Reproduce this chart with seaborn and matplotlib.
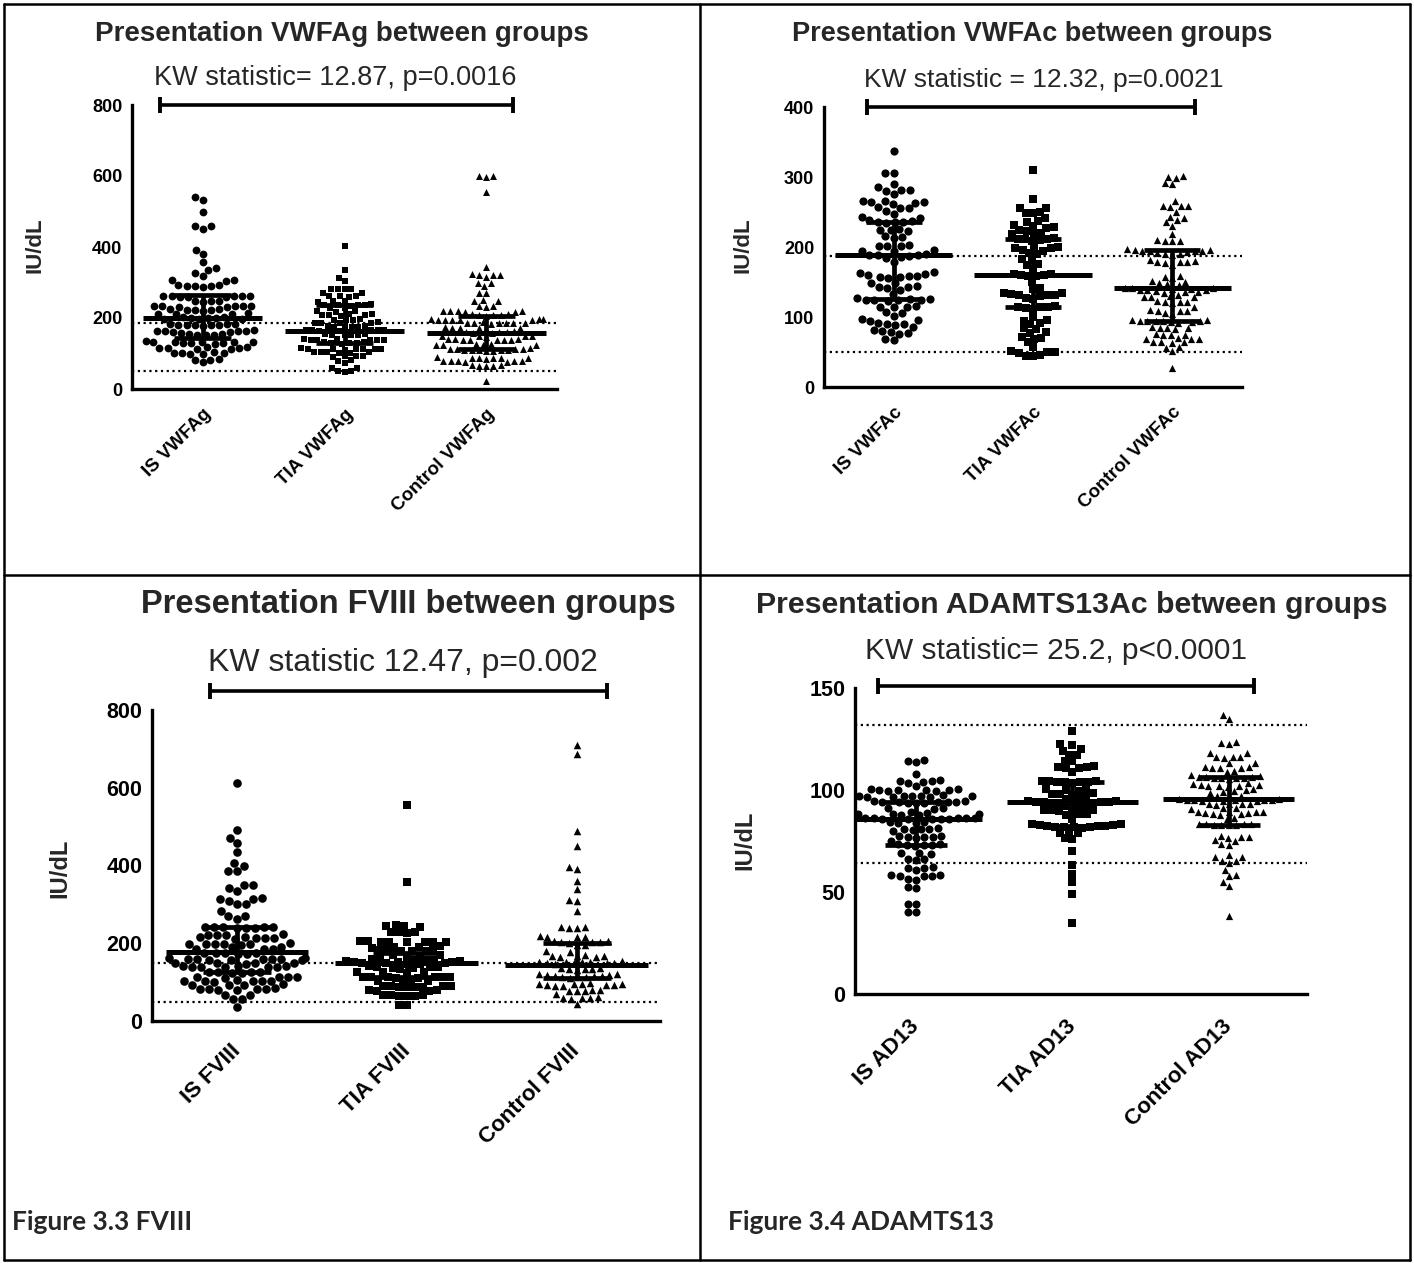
import numpy as np
import pandas as pd
import matplotlib
matplotlib.use("Agg")
import matplotlib.pyplot as plt
import seaborn as sns
from matplotlib.lines import Line2D

sns.set_style("white")
plt.rcParams["font.family"] = ["Liberation Sans", "DejaVu Sans"]

# ---------------- DATA ----------------
# Panel 1: VWFAg (IU/dL)
vwfag_labels = ["IS VWFAg", "TIA VWFAg", "Control VWFAg"]
is_vwfag = [540, 532, 498, 458, 452, 458, 392, 380, 357, 341, 335, 327, 319, 306, 307, 305,
            291, 293, 289, 290, 292, 288,
            262, 261, 260, 263, 259, 262, 261, 260,
            248, 247, 246, 247,
            234, 233, 232, 233, 235, 231, 233,
            224, 222, 223, 225, 221, 223,
            212, 213, 211, 210,
            201, 199, 198, 202, 200, 197, 203, 196,
            182, 181, 180, 183, 179, 181, 184, 178, 181,
            163, 162, 161, 164, 160, 162, 165, 159,
            153, 152, 154, 151, 155,
            132, 131, 130, 133, 129, 131, 134, 128, 131, 130,
            116, 115, 114, 117, 113, 115, 118,
            102, 101, 100, 103, 99, 101,
            84, 83, 82, 75]
tia_vwfag = [402, 336, 313, 303, 282, 283, 281, 282, 270, 271, 261, 262, 260, 261, 247, 248, 246,
             237, 238, 236, 237, 239, 235, 228, 229, 219, 220, 218,
             209, 210, 208, 209, 211, 207, 195, 196, 194, 195,
             186, 187, 185, 186, 188, 176, 177, 175, 176, 178, 174,
             165, 166, 164, 165, 167, 163, 165, 153, 154, 152, 153, 155, 151,
             139, 140, 138, 139, 141, 137, 139, 130, 131, 129, 130, 132, 128,
             113, 114, 112, 113, 115, 111, 114, 112, 103, 104, 102, 103, 105, 101,
             92, 93, 91, 92, 80, 81, 73, 59, 60, 50, 51, 49]
ctrl_vwfag = [599, 600, 598, 555, 343, 322, 323, 321, 322, 315, 299, 300, 289, 270, 271, 249, 250, 248,
              233, 234, 232, 219, 220, 218, 219, 221, 217, 209, 210, 208, 209, 211, 207,
              195, 196, 194, 195, 197, 193, 196, 194, 186, 187, 185, 186, 188, 184, 187, 185,
              172, 173, 171, 172, 174, 170, 160, 161, 159, 160, 162, 158, 148, 149, 147, 148, 150,
              139, 140, 138, 139, 141, 137, 140, 138, 125, 126, 124, 125, 127, 123,
              113, 114, 112, 113, 115, 111, 109, 110, 108, 109, 107, 110,
              87, 88, 86, 87, 89, 85, 88, 78, 79, 77, 78, 80, 76, 79, 66, 67, 65, 66, 68, 22]
vwfag_median = [200, 163, 158]
vwfag_q1 = [144, 130, 113]
vwfag_q3 = [265, 237, 206]
vwfag_refs = [50, 187]

# Panel 2: VWFAc
vwfac_labels = ["IS VWFAc", "TIA VWFAc", "Control VWFAc"]
is_vwfac = [337, 305, 306, 290, 286, 281, 282, 280, 276, 264, 265, 263, 264, 265, 262, 256, 257, 255, 251, 247, 242, 243,
            236, 237, 235, 236, 238, 234, 224, 225, 223, 224, 214, 215, 213, 202, 203, 201, 202, 195, 196, 194,
            188, 189, 187, 188, 190, 186, 185, 179, 163, 164, 162, 160, 157, 158, 156, 157, 159, 148, 149,
            143, 144, 142, 143, 138, 133, 125, 126, 124, 125, 127, 123, 126, 124,
            115, 116, 114, 115, 106, 107, 102, 96, 97, 95, 90, 91, 89, 90, 86, 80, 81, 79, 76, 77, 67, 68]
tia_vwfac = [310, 268, 255, 256, 249, 250, 248, 242, 236, 237, 230, 231, 227, 228, 223, 224, 219, 220, 218,
             211, 212, 210, 211, 213, 209, 199, 200, 198, 199, 195, 196, 190, 191, 182, 183, 175, 176, 169,
             160, 161, 159, 160, 162, 158, 150, 140, 141, 134, 135, 131, 132, 130, 131, 133, 126, 127,
             114, 115, 113, 114, 116, 112, 100, 95, 96, 90, 91, 83, 84, 77, 78, 70, 71, 69, 64, 57,
             50, 51, 49, 50, 45, 46, 44]
ctrl_vwfac = [302, 299, 300, 290, 291, 265, 258, 259, 257, 258, 250, 242, 243, 238, 235, 230, 219, 209, 210, 208, 209,
              195, 196, 194, 195, 197, 193, 196, 194, 190, 191, 189, 190, 179, 180, 178, 179, 181, 177, 175,
              157, 158, 156, 150, 151, 147, 148, 146, 140, 141, 139, 140, 142, 138, 141, 139, 136, 137, 135, 136,
              129, 130, 128, 129, 131, 121, 122, 120, 121, 123, 114, 109, 110, 108, 109, 105, 106,
              94, 95, 93, 94, 96, 92, 95, 93, 94, 96, 84, 85, 83, 84, 86, 75, 76, 74, 75, 69, 70, 68, 69,
              64, 65, 63, 64, 56, 57, 51, 27]
vwfac_median = [189, 160, 141]
vwfac_q1 = [126, 115, 94]
vwfac_q3 = [236, 211, 196]
vwfac_refs = [50, 187]

# Panel 3: FVIII
fviii_labels = ["IS FVIII", "TIA FVIII", "Control FVIII"]
is_fviii = [612, 491, 472, 457, 434, 407, 400, 386, 387, 349, 350, 342, 334, 315, 316, 314, 309, 300, 301, 282, 270, 271, 263,
            241, 242, 240, 241, 243, 239, 242, 240, 222, 223, 221, 222, 214, 215, 213, 214, 216, 212,
            198, 199, 197, 198, 200, 196, 199, 190, 191, 185, 186, 184, 174, 175, 173, 174, 176, 172,
            159, 160, 158, 159, 161, 157, 160, 158, 159, 161, 148, 149, 147, 148, 150,
            140, 141, 139, 140, 142, 138, 141, 139, 125, 126, 124, 125, 127, 123,
            112, 113, 111, 112, 114, 103, 104, 102, 103, 105, 101, 104, 93, 94, 92, 93,
            82, 83, 81, 82, 84, 80, 83, 66, 67, 56, 57, 36]
tia_fviii = [556, 358, 244, 245, 243, 246, 228, 229, 227, 230, 203, 204, 202, 205, 203, 204, 202, 205,
             190, 191, 189, 192, 181, 182, 180, 183, 181, 182, 168, 169, 167, 170,
             158, 159, 157, 160, 155, 156, 154, 152, 153, 151, 150, 149, 148, 147, 146,
             140, 141, 139, 138, 137, 136, 135, 125, 126, 124, 127, 112, 113, 111, 114, 112, 113, 111, 114,
             103, 104, 102, 105, 88, 89, 87, 90, 88, 89, 87, 90, 78, 79, 77, 80, 65, 66, 64, 67, 65, 66, 41, 42]
ctrl_fviii = [710, 688, 488, 451, 396, 391, 361, 340, 309, 310, 284, 240, 241, 239, 242, 216, 217, 215, 218,
              203, 204, 202, 205, 201, 206, 195, 196, 178, 179, 166, 167, 165, 168, 164, 169,
              150, 151, 149, 152, 148, 153, 147, 154, 150, 151, 134, 135, 133, 136, 132, 137,
              119, 120, 118, 121, 117, 113, 114, 112, 115, 111, 116,
              93, 94, 92, 95, 91, 96, 90, 97, 93, 94, 78, 79, 77, 80, 76, 70, 59, 60, 58, 61, 57, 44]
fviii_median = [178, 150, 143]
fviii_q1 = [125, 113, 110]
fviii_q3 = [241, 176, 200]
fviii_refs = [50, 150]

# Panel 4: ADAMTS13 activity
ad13_labels = ["IS AD13", "TIA AD13", "Control AD13"]
is_ad13 = [114, 114.5, 113.5, 108, 105, 104, 104.5, 103.5, 104.2, 102, 100, 100.3, 99.7, 100.1, 99.9, 100.4, 99.6, 100.2,
           97, 97.3, 96.7, 97.1, 96.9, 97.4, 96.6, 97.2, 96.8,
           94, 94.3, 93.7, 94.1, 93.9, 94.4, 93.6, 94.2, 93.8, 94.5,
           91, 91.3, 90.7, 89, 89.3, 88.7, 88, 88.3, 87.7, 88.1, 87.9,
           86, 86.3, 85.7, 86.1, 85.9, 86.4, 85.6, 86.2, 85.8, 86.5,
           84, 84.3, 83.7, 84.1, 81, 81.3, 80.7, 81.1, 80, 80.3,
           77, 77.3, 76.7, 77.1, 76.9, 77.4, 75,
           73, 73.3, 72.7, 73.1, 72.9, 73.4, 69, 69.3, 68.7, 66, 66.3, 65.7, 62, 62.3, 61.7, 61,
           58, 58.3, 57.7, 58.1, 57.9, 56, 56.3, 52, 52.3, 44, 44.3, 40, 40.3]
tia_ad13 = [129, 122, 122.4, 120, 119, 117, 117.3, 114, 114.3, 112, 111, 111.3, 110.7, 111.1, 109,
            104, 104.3, 103.7, 104.1, 103.9, 104.4, 103.6, 104.2, 100, 100.3, 99.7, 100.1,
            98, 98.3, 97.7, 98.1, 96, 96.3, 95.7, 94, 94.3, 93.7, 94.1, 93.9, 94.4, 93.6, 94.2, 93.8, 94.5,
            92, 92.3, 91.7, 90, 90.3, 89.7, 90.1, 89.9, 88, 88.3, 87.7, 86,
            83, 83.3, 82.7, 83.1, 82, 82.3, 81.7, 82.1, 81.9, 82.4, 81.6, 82.2,
            79, 79.3, 78.7, 76, 76.3, 70, 63, 59, 55, 49, 35]
ctrl_ad13 = [137, 135, 123, 123.3, 122.7, 118, 118.3, 116, 116.3, 115.7, 116.1, 113, 113.3,
             111, 111.3, 110.7, 111.1, 110.9, 109, 109.3, 107, 107.3, 106, 106.3, 105.7, 106.1, 105.9, 106.4, 105.6, 106.2,
             103, 103.3, 102, 102.3, 101.7, 102.1, 101.9, 102.4, 100, 100.3, 99, 99.3, 98.7, 97, 97.3, 96.7,
             95, 95.3, 94.7, 95.1, 94.9, 95.4, 94.6, 95.2, 94.8, 95.5,
             93, 93.3, 92.7, 93.1, 92.9, 91, 91.3, 90.7, 89, 89.3, 88.7, 89.1, 88.9, 89.4, 88, 88.3, 87.7, 86, 86.3,
             83, 83.3, 82.7, 83.1, 82.9, 83.4, 82.6, 83.2, 77, 77.3, 76.7, 77.1, 75, 75.3, 73, 73.3,
             68, 67, 67.3, 65, 65.3, 64, 61, 58, 58.3, 55, 53, 38]
ad13_median = [86, 94, 95.5]
ad13_q1 = [73, 82.5, 83]
ad13_q3 = [94, 104, 106.5]
ad13_refs = [64, 132]

titles = ["Presentation VWFAg between groups", "Presentation VWFAc between groups",
          "Presentation FVIII between groups", "Presentation ADAMTS13Ac between groups"]
kw_texts = ["KW statistic= 12.87, p=0.0016", "KW statistic = 12.32, p=0.0021",
            "KW statistic 12.47, p=0.002", "KW statistic= 25.2, p<0.0001"]
captions = ["Figure 3.3 FVIII", "Figure 3.4 ADAMTS13"]

# ---------------- LAYOUT ----------------
W, H = 1414, 1263
fig = plt.figure(figsize=(W / 100, H / 100), dpi=100)


def fx(x):
    return x / W


def fy(y):
    return 1 - y / H


panels = [
    dict(rect=(132, 105, 557, 389), xlim=(-0.5, 2.5), ylim=(0, 800), yticks=[0, 200, 400, 600, 800],
         labels=vwfag_labels, vals=[is_vwfag, tia_vwfag, ctrl_vwfag],
         med=vwfag_median, q1=vwfag_q1, q3=vwfag_q3, refs=vwfag_refs,
         bracket=(-0.3, 2.19, 800), title=(342, 34, 20), kw=(335, 78, 19.5),
         ylab=(35, 245, 16), tfs=13, xfs=13.5, xpad=6, xva="top", sizes=(5.6, 4.7, 5.0)),
    dict(rect=(824, 107, 1242, 387), xlim=(-0.5, 2.5), ylim=(0, 400), yticks=[0, 100, 200, 300, 400],
         labels=vwfac_labels, vals=[is_vwfac, tia_vwfac, ctrl_vwfac],
         med=vwfac_median, q1=vwfac_q1, q3=vwfac_q3, refs=vwfac_refs,
         bracket=(-0.19, 2.16, 400), title=(1032, 34, 19.5), kw=(1044, 80, 19),
         ylab=(743, 245, 16), tfs=13, xfs=13.5, xpad=6, xva="top", sizes=(5.9, 5.1, 5.2)),
    dict(rect=(152, 710, 660, 1021), xlim=(-0.5, 2.49), ylim=(0, 800), yticks=[0, 200, 400, 600, 800],
         labels=fviii_labels, vals=[is_fviii, tia_fviii, ctrl_fviii],
         med=fviii_median, q1=fviii_q1, q3=fviii_q3, refs=fviii_refs,
         bracket=(-0.16, 2.18, 850), title=(408, 605, 23.5), kw=(403, 663, 23),
         ylab=(60, 868, 17), tfs=15.5, xfs=16, xpad=13, xva="center", sizes=(6.2, 5.4, 5.4)),
    dict(rect=(855, 688, 1307, 994), xlim=(-0.39, 2.5), ylim=(0, 150), yticks=[0, 50, 100, 150],
         labels=ad13_labels, vals=[is_ad13, tia_ad13, ctrl_ad13],
         med=ad13_median, q1=ad13_q1, q3=ad13_q3, refs=ad13_refs,
         bracket=(-0.24, 2.16, 151), title=(1072, 605, 21.8), kw=(1056, 651, 21.5),
         ylab=(745, 840, 17), tfs=15.5, xfs=16, xpad=15, xva="center", sizes=(5.8, 5.3, 5.2)),
]

markers = ["o", "s", "^"]

for p, title, kw in zip(panels, titles, kw_texts):
    l, t, r, b = p["rect"]
    ax = fig.add_axes([fx(l), fy(b), fx(r) - fx(l), fy(t) - fy(b)])
    labels = p["labels"]
    df = pd.DataFrame({
        "group": np.repeat(labels, [len(v) for v in p["vals"]]),
        "value": np.concatenate([np.asarray(v, dtype=float) for v in p["vals"]]),
    })
    for g, m, s in zip(labels, markers, p["sizes"]):
        sns.swarmplot(data=df[df["group"] == g], x="group", y="value", order=labels,
                      ax=ax, color="black", marker=m, size=s, linewidth=0, zorder=2,
                      warn_thresh=1.0)
    pos = np.arange(len(labels))
    med = np.asarray(p["med"])
    q1 = np.asarray(p["q1"])
    q3 = np.asarray(p["q3"])
    ax.hlines(med, pos - 0.42, pos + 0.42, color="black", lw=3.6, zorder=4)
    ax.hlines(q1, pos - 0.2, pos + 0.2, color="black", lw=3.4, zorder=4)
    ax.hlines(q3, pos - 0.2, pos + 0.2, color="black", lw=3.4, zorder=4)
    ax.vlines(pos, q1, q3, color="black", lw=3.4, zorder=4)
    for ref in p["refs"]:
        ax.axhline(ref, color="black", ls=(0, (1, 1.6)), lw=1.6, zorder=1)
    x0, x1, by = p["bracket"]
    ax.plot([x0, x1], [by, by], color="black", lw=2.6, clip_on=False, solid_capstyle="butt")
    ax.plot([x0, x1], [by, by], ls="none", marker="|", ms=11.5, mew=2.8, color="black", clip_on=False)

    ax.set_xlim(*p["xlim"])
    ax.set_ylim(*p["ylim"])
    ax.set_yticks(p["yticks"])
    ax.set_yticklabels([str(v) for v in p["yticks"]], fontweight="bold", fontsize=p["tfs"])
    ax.set_xticks(pos)
    ax.set_xticklabels(labels, rotation=45, ha="right", va=p["xva"], rotation_mode="anchor",
                       fontweight="bold", fontsize=p["xfs"])
    ax.set_xlabel("")
    ax.set_ylabel("")
    for side in ["top", "right"]:
        ax.spines[side].set_visible(False)
    for side in ["left", "bottom"]:
        ax.spines[side].set_linewidth(2.4)
        ax.spines[side].set_color("black")
    ax.tick_params(axis="both", which="major", width=2.4, length=6, direction="out",
                   color="black", labelcolor="black")
    ax.tick_params(axis="x", pad=p["xpad"])
    ax.tick_params(axis="y", pad=1)
    ax.set_facecolor("none")
    ax.grid(False)

    tx, ty, ts = p["title"]
    fig.text(fx(tx), fy(ty), title, ha="center", va="center", fontsize=ts, fontweight="bold")
    kx, ky, ks = p["kw"]
    fig.text(fx(kx), fy(ky), kw, ha="center", va="center", fontsize=ks)
    yx, yy, ys = p["ylab"]
    fig.text(fx(yx), fy(yy), "IU/dL", ha="center", va="center", rotation=90,
             fontsize=ys, fontweight="bold")

# figure captions (Calibri-like)
fig.text(fx(12), fy(1222), captions[0], ha="left", va="center", fontsize=19,
         fontweight="bold", family=["Lato", "DejaVu Sans"])
fig.text(fx(728), fy(1222), captions[1], ha="left", va="center", fontsize=19,
         fontweight="bold", family=["Lato", "DejaVu Sans"])

# table borders
bw = 1.8
segs = [((4, 1410), (4, 4)), ((4, 1410), (1260, 1260)), ((4, 4), (4, 1260)),
        ((1410, 1410), (4, 1260)), ((700, 700), (4, 1260)), ((4, 1410), (575, 575))]
for xs, ys in segs:
    fig.add_artist(Line2D([fx(xs[0]), fx(xs[1])], [fy(ys[0]), fy(ys[1])],
                          color="black", lw=bw, transform=fig.transFigure))

fig.savefig("out.png", dpi=100, facecolor="white")
